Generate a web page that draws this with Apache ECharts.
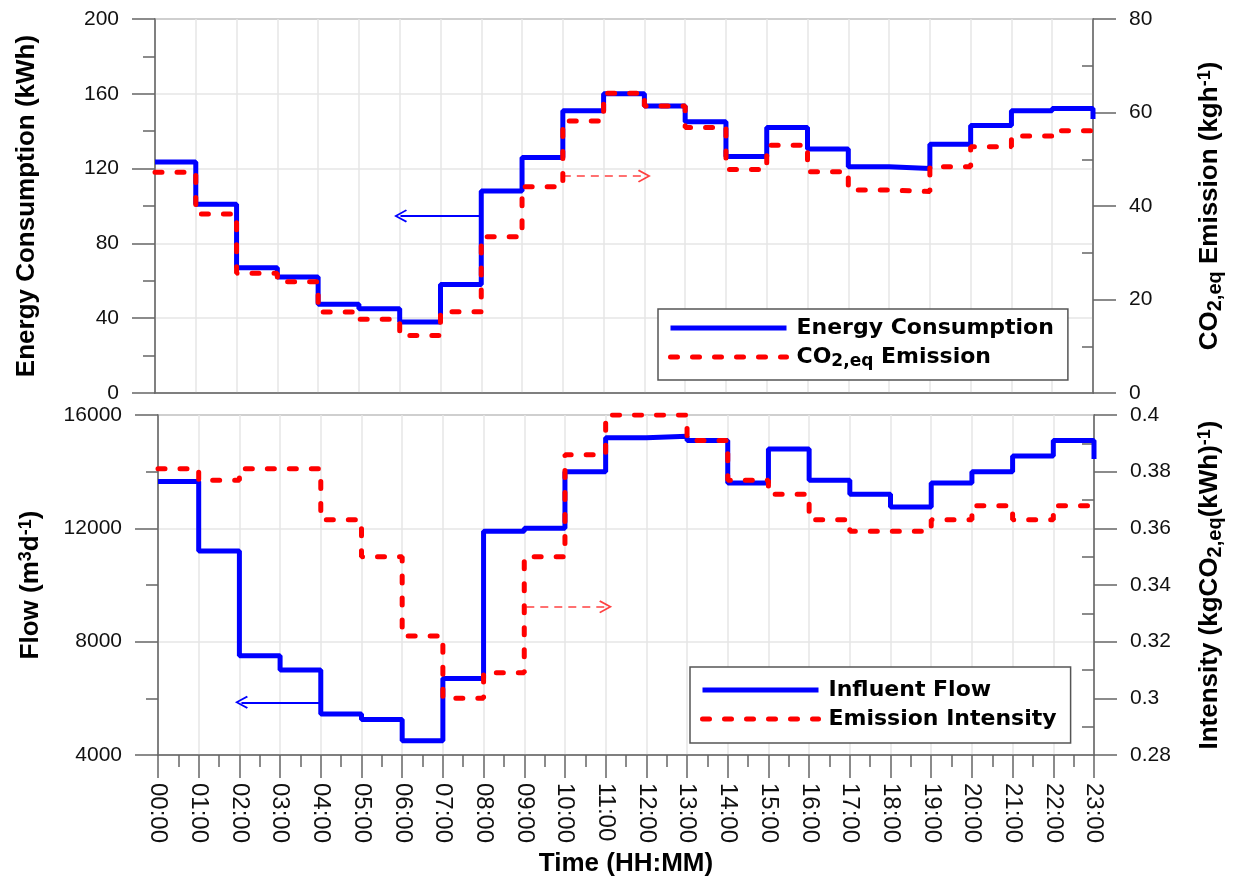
<!DOCTYPE html>
<html><head><meta charset="utf-8">
<script src="https://cdn.jsdelivr.net/npm/echarts@6/dist/echarts.min.js"></script>
<style>html,body{margin:0;padding:0;background:#fff}#c{width:1233px;height:884px}</style>
</head><body><div id="c"></div>
<script>
// ---- data ----
const hours = ['00:00','01:00','02:00','03:00','04:00','05:00','06:00','07:00','08:00','09:00','10:00','11:00',
               '12:00','13:00','14:00','15:00','16:00','17:00','18:00','19:00','20:00','21:00','22:00','23:00'];
const energy = [123.5,101,67,62,47.5,45,38,58,108,126,151,160,153.5,145,126.5,142,130.5,121,120,133,143,151,152.2,146.5];
const co2 = [47.2,38.3,25.6,23.8,17.3,15.8,12.3,17.4,33.4,44.1,58.2,64.1,61.4,56.8,47.8,53,47.3,43.4,43.1,48.4,52.7,55,56.1,54.9];
const flow = [13650,11200,7500,7000,5450,5250,4500,6700,11900,12000,14000,15200,15250,15100,13600,14800,13700,13200,12750,13600,14000,14550,15100,14450];
const intensity = [0.381,0.377,0.381,0.381,0.363,0.350,0.322,0.300,0.309,0.350,0.386,0.400,0.400,0.391,0.377,0.372,0.363,0.359,0.359,0.363,0.368,0.363,0.368,0.370];
// annotation arrows: [fromHour, toHour, value]
const arrowEnergy = [8, 6.02, 94.7];
const arrowCo2 = [10.0, 12.0, 46.4];
const arrowFlow = [4, 2.05, 5860];
const arrowIntensity = [9.05, 11.0, 0.3323];

const names = {
  energy: 'Energy Consumption',
  co2: 'CO2,eq Emission',
  flow: 'Influent Flow',
  intensity: 'Emission Intensity'
};

const pair = arr => arr.map((v, i) => [i, v]);
const chevron = 'path://M0,9 L5,0.5 L10,9 L8.9,9.8 L5,3 L1.1,9.8 Z';
const FONT = "'Liberation Sans', Arial, sans-serif";
const LEGFONT = "'DejaVu Sans', Verdana, sans-serif";
const AX = '#666';
const GRIDC = '#e6e6e6';

function arrowLine(a, color, dashed) {
  return {
    silent: true, animation: false,
    symbol: ['none', chevron], symbolSize: 13,
    label: {show: false},
    emphasis: {disabled: true},
    lineStyle: {color: color, width: dashed ? 1.5 : 2, type: dashed ? [8, 6] : 'solid', opacity: dashed ? 0.75 : 1},
    itemStyle: {color: color},
    data: [[{coord: [a[0], a[2]]}, {coord: [a[1], a[2]]}]]
  };
}

const nameRich = {
  b: {fontSize: 26, fontWeight: 'bold', fontFamily: FONT, color: '#000', lineHeight: 30},
  sub: {fontSize: 20, fontWeight: 'bold', fontFamily: FONT, color: '#000', lineHeight: 30, padding: [10, 0, 0, 0]},
  sup: {fontSize: 18, fontWeight: 'bold', fontFamily: FONT, color: '#000', lineHeight: 30, padding: [0, 0, 10, 0]}
};
const legRich = {
  n: {fontSize: 22, fontWeight: 'bold', fontFamily: LEGFONT, color: '#000', lineHeight: 26},
  sub: {fontSize: 17, fontWeight: 'bold', fontFamily: LEGFONT, color: '#000', lineHeight: 26, padding: [9, 0, 0, 0]}
};

function yAxisBase(gridIndex, pos, min, max, interval, minorLen, fmt) {
  return {
    type: 'value', gridIndex: gridIndex, position: pos, min: min, max: max, interval: interval,
    axisLine: {show: true, lineStyle: {color: AX, width: 1.5}},
    axisTick: {show: true, length: 23, lineStyle: {color: AX, width: 1.5}},
    minorTick: {show: true, splitNumber: 2, length: minorLen, lineStyle: {color: AX, width: 1.5}},
    axisLabel: {show: true, margin: 36, fontSize: 21, fontFamily: FONT, color: '#111', formatter: fmt,
                showMinLabel: true, showMaxLabel: true},
    splitLine: {show: pos === 'left', lineStyle: {color: GRIDC, width: 1.5}},
    nameLocation: 'middle', nameRotate: 90,
    nameTextStyle: {rich: nameRich}
  };
}

const legendCommon = {
  orient: 'vertical', itemWidth: 116, itemHeight: 24,
  borderColor: '#555', borderWidth: 1.5, backgroundColor: '#fff',
  lineStyle: {width: 5},
  itemStyle: {opacity: 0},
  textStyle: {rich: legRich, padding: [0, 0, 0, 5]}
};

const option = {
  animation: false,
  backgroundColor: '#fff',
  textStyle: {fontFamily: FONT},
  grid: [
    {left: 155, right: 135, top: 19, height: 374, show: true, borderColor: AX, borderWidth: 1.5, backgroundColor: 'transparent'},
    {left: 158, right: 131, top: 415, height: 340, show: true, borderColor: AX, borderWidth: 1.5, backgroundColor: 'transparent'}
  ],
  xAxis: [
    {type: 'value', gridIndex: 0, min: 0, max: 23, interval: 1,
     axisLine: {show: true, lineStyle: {color: AX, width: 1.5}},
     axisTick: {show: false}, axisLabel: {show: false},
     splitLine: {show: true, lineStyle: {color: GRIDC, width: 1.5}}},
    {type: 'value', gridIndex: 1, min: 0, max: 23, interval: 1,
     axisLine: {show: true, lineStyle: {color: AX, width: 1.5}},
     axisTick: {show: true, length: 23, lineStyle: {color: AX, width: 1.5}},
     minorTick: {show: true, splitNumber: 2, length: 12, lineStyle: {color: AX, width: 1.5}},
     axisLabel: {show: true, rotate: -90, margin: 28, fontSize: 24, fontFamily: FONT, color: '#111',
                 formatter: v => hours[Math.round(v)] || ''},
     splitLine: {show: true, lineStyle: {color: GRIDC, width: 1.5}},
     name: 'Time (HH:MM)', nameLocation: 'middle', nameGap: 96,
     nameTextStyle: {fontSize: 26, fontWeight: 'bold', fontFamily: FONT, color: '#000'}}
  ],
  yAxis: [
    Object.assign(yAxisBase(0, 'left', 0, 200, 40, 12, v => String(v)),
      {name: '{b|Energy Consumption (kWh)}', nameGap: 113}),
    Object.assign(yAxisBase(0, 'right', 0, 80, 20, -11, v => String(v)),
      {name: '{b|CO}{sub|2,eq}{b| Emission (kgh}{sup|-1}{b|)}', nameGap: 102}),
    Object.assign(yAxisBase(1, 'left', 4000, 16000, 4000, 12, v => String(v)),
      {name: '{b|Flow (m}{sup|3}{b|d}{sup|-1}{b|)}', nameGap: 112}),
    Object.assign(yAxisBase(1, 'right', 0.28, 0.4, 0.02, -12, v => String(+v.toFixed(2))),
      {name: '{b|Intensity (kgCO}{sub|2,eq}{b|(kWh)}{sup|-1}{b|)}', nameGap: 101})
  ],
  legend: [
    Object.assign({}, legendCommon, {
      left: 658, top: 309, itemGap: 5, padding: [8, 14, 10, 10],
      data: [names.energy, names.co2],
      formatter: n => n === names.co2 ? '{n|CO}{sub|2,eq}{n| Emission}' : '{n|' + n + '}'}),
    Object.assign({}, legendCommon, {
      left: 690, top: 667, itemGap: 7, padding: [12, 14, 13, 10],
      data: [names.flow, names.intensity],
      formatter: n => '{n|' + n + '}'})
  ],
  series: [
    {name: names.energy, type: 'line', step: 'end', xAxisIndex: 0, yAxisIndex: 0, data: pair(energy),
     symbol: 'none', lineStyle: {color: '#0000ff', width: 5}, itemStyle: {color: '#0000ff'},
     markLine: arrowLine(arrowEnergy, '#0000ff', false)},
    {name: names.co2, type: 'line', step: 'end', xAxisIndex: 0, yAxisIndex: 1, data: pair(co2),
     symbol: 'none', lineStyle: {color: '#ff0000', width: 5, type: [7, 15], cap: 'round'}, itemStyle: {color: '#ff0000'},
     markLine: arrowLine(arrowCo2, '#ff0000', true)},
    {name: names.flow, type: 'line', step: 'end', xAxisIndex: 1, yAxisIndex: 2, data: pair(flow),
     symbol: 'none', lineStyle: {color: '#0000ff', width: 5}, itemStyle: {color: '#0000ff'},
     markLine: arrowLine(arrowFlow, '#0000ff', false)},
    {name: names.intensity, type: 'line', step: 'end', xAxisIndex: 1, yAxisIndex: 3, data: pair(intensity),
     symbol: 'none', lineStyle: {color: '#ff0000', width: 5, type: [7, 15], cap: 'round'}, itemStyle: {color: '#ff0000'},
     markLine: arrowLine(arrowIntensity, '#ff0000', true)}
  ]
};

const chart = echarts.init(document.getElementById('c'));
chart.setOption(option);
</script>
</body></html>
